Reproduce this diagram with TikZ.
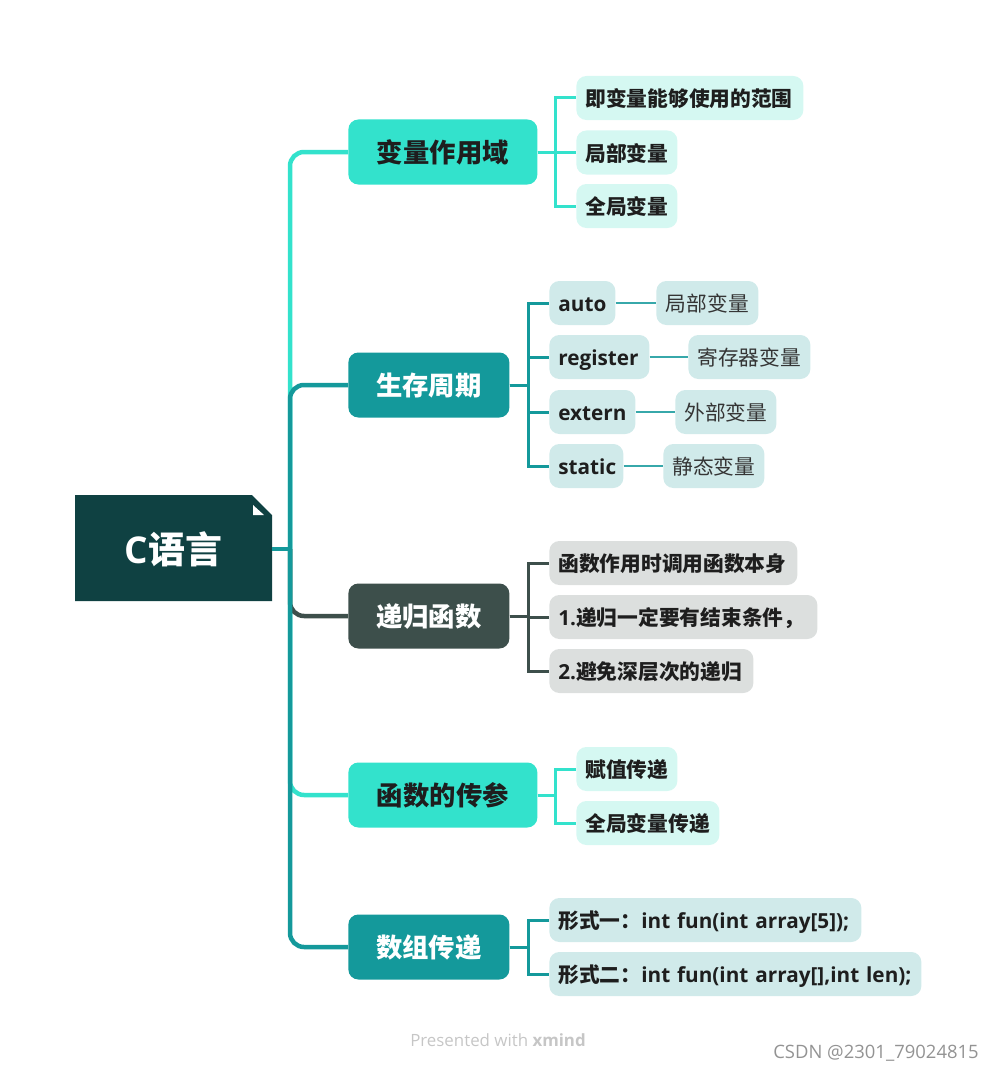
\documentclass[tikz,border=0pt]{standalone}
\usepackage{fontspec}
\setmainfont{Noto Sans CJK SC}
\newfontfamily\enfont{Open Sans}
\definecolor{turq}{HTML}{33E2CC}
\definecolor{deepteal}{HTML}{14999B}
\definecolor{slate}{HTML}{3D4F4B}
\definecolor{rootc}{HTML}{0F4142}
\definecolor{mint}{HTML}{D5F8F2}
\definecolor{paleteal}{HTML}{D0EAEA}
\definecolor{palegrey}{HTML}{DCDFDE}
\definecolor{ink}{HTML}{1E1E1E}

\begin{document}
\begin{tikzpicture}[
  x=0.2mm, y=-0.2mm,
  rootbox/.style={minimum width=39.4mm, minimum height=21.2mm, inner sep=0pt, text=white, font=\bfseries\fontsize{21}{24}\selectfont},
  topic/.style={anchor=west, rounded corners=2mm, minimum height=13mm, inner sep=0pt, text height=1.15em, text depth=0em, font=\bfseries\fontsize{15}{18}\selectfont},
  kid/.style={anchor=west, rounded corners=2mm, minimum height=8.8mm, inner xsep=1.8mm, inner ysep=0pt, align=left, text height=1.05em, text depth=0.05em, text=ink, font=\bfseries\fontsize{11.8}{14}\selectfont},
  leaf/.style={anchor=west, rounded corners=2mm, minimum height=8.8mm, inner sep=0pt, text height=1.05em, text depth=0.05em, fill=paleteal, text=ink!90, font=\fontsize{11.8}{14}\selectfont},
  trunk/.style={line width=0.9mm, rounded corners=2.8mm},
  twig/.style={line width=0.6mm},
  leafline/.style={line width=0.4mm, draw=deepteal!85}
]
\useasboundingbox (0,0) rectangle (997,1071);

% root with folded corner
\fill[rootc] (75,495) -- (252,495) -- (272,515) -- (272,601) -- (75,601) -- cycle;
\fill[white] (253,505) -- (264,515) -- (253,515) -- cycle;
\node[rootbox] (root) at (173.5,549) {{\enfont C}语言};
\coordinate (hub) at (290,549);

\node[topic, fill=turq, text=ink, minimum width=37.8mm] (b1) at (348,152) {变量作用域};
\node[topic, fill=deepteal, text=white, minimum width=32.2mm] (b2) at (348,385) {生存周期};
\node[topic, fill=slate, text=white, minimum width=32.2mm] (b3) at (348,616) {递归函数};
\node[topic, fill=turq, text=ink, minimum width=37.8mm] (b4) at (348,795) {函数的传参};
\node[topic, fill=deepteal, text=white, minimum width=32.2mm] (b5) at (348,947) {数组传递};

\draw[trunk, turq] (hub) |- (b1.west);
\draw[trunk, turq] (hub) |- (b4.west);
\draw[trunk, slate] (hub) |- (b3.west);
\draw[trunk, deepteal] (hub) |- (b2.west);
\draw[trunk, deepteal] (hub) |- (b5.west);
\draw[trunk, deepteal] (root.east) -- (hub);

\node[kid, fill=mint, text width=41.8mm] (k11) at (576,98) {即变量能够使用的范围};
\node[kid, fill=mint, text width=16.6mm] (k12) at (576,152.5) {局部变量};
\node[kid, fill=mint, text width=16.6mm] (k13) at (576,206) {全局变量};

\node[kid, fill=paleteal, text width=9.6mm] (k21) at (549,303) {\enfont auto};
\node[kid, fill=paleteal, text width=16.4mm] (k22) at (549,357) {\enfont register};
\node[kid, fill=paleteal, text width=13.6mm] (k23) at (549,412) {\enfont extern};
\node[kid, fill=paleteal, text width=11.2mm] (k24) at (549,466) {\enfont static};

\node[leaf, minimum width=20.4mm] (l21) at (656,303) {局部变量};
\node[leaf, minimum width=24.4mm] (l22) at (688,357) {寄存器变量};
\node[leaf, minimum width=20.2mm] (l23) at (675,412) {外部变量};
\node[leaf, minimum width=20.2mm] (l24) at (663,466) {静态变量};

\node[kid, fill=palegrey, text width=46mm] (k31) at (549,563) {函数作用时调用函数本身};
\node[kid, fill=palegrey, text width=50mm] (k32) at (549,617) {{\enfont 1.}递归一定要有结束条件，};
\node[kid, fill=palegrey, text width=37.2mm] (k33) at (549,671) {{\enfont 2.}避免深层次的递归};

\node[kid, fill=mint, text width=16.6mm] (k41) at (576,769) {赋值传递};
\node[kid, fill=mint, text width=25mm] (k42) at (576,823) {全局变量传递};

\node[kid, fill=paleteal, text width=58.8mm] (k51) at (549,920) {\mbox{形式一：{\enfont int fun(int array[5]);}}};
\node[kid, fill=paleteal, text width=70.8mm] (k52) at (549,974) {\mbox{形式二：{\enfont int fun(int array[],int len);}}};

\foreach \k in {k11,k12,k13}
  \draw[twig, turq] (b1.east) -- ++(18,0) |- (\k.west);
\foreach \k in {k21,k22,k23,k24}
  \draw[twig, deepteal] (b2.east) -- ++(19,0) |- (\k.west);
\foreach \k in {k31,k32,k33}
  \draw[twig, slate] (b3.east) -- ++(19,0) |- (\k.west);
\foreach \k in {k41,k42}
  \draw[twig, turq] (b4.east) -- ++(18,0) |- (\k.west);
\foreach \k in {k51,k52}
  \draw[twig, deepteal] (b5.east) -- ++(19,0) |- (\k.west);

\draw[leafline] (k21.east) -- (l21.west);
\draw[leafline] (k22.east) -- (l22.west);
\draw[leafline] (k23.east) -- (l23.west);
\draw[leafline] (k24.east) -- (l24.west);

\node[text=gray!45, font=\enfont\fontsize{9.6}{11}\selectfont] (mark) at (498,1040) {Presented with \textbf{xmind}};
\node[text=gray!85, font=\enfont\fontsize{10.5}{12}\selectfont] (src) at (876,1053) {CSDN @2301\_79024815};
\end{tikzpicture}
\end{document}
